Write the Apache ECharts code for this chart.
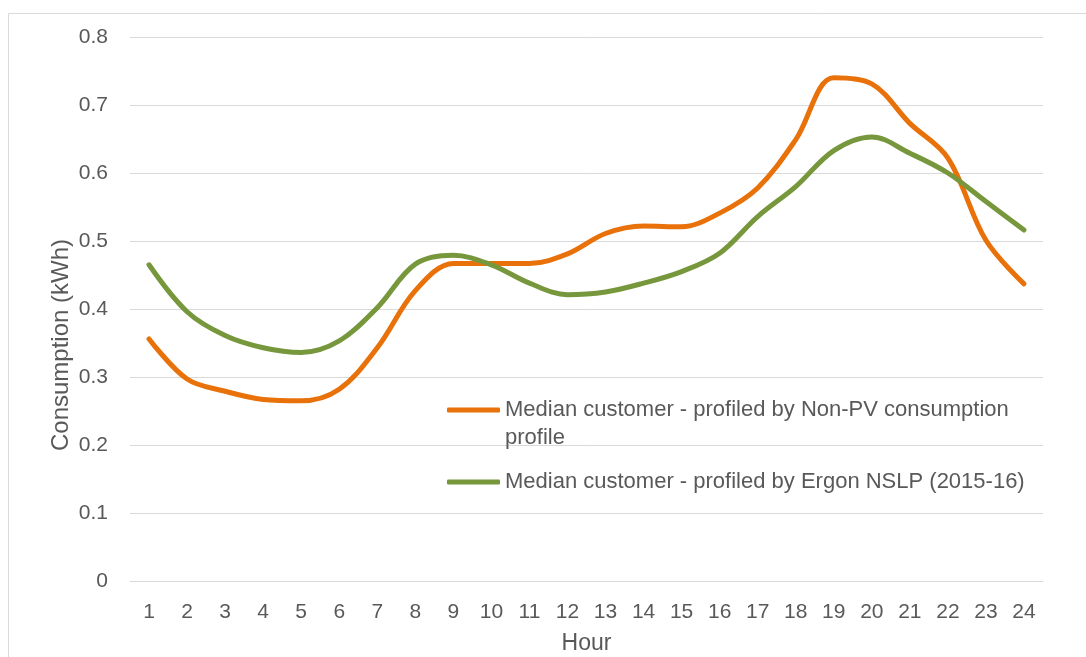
<!DOCTYPE html>
<html>
<head>
<meta charset="utf-8">
<script src="https://cdn.jsdelivr.net/npm/echarts@6/dist/echarts.min.js"></script>
<style>
html,body{margin:0;padding:0;background:#fff;}
#chart{width:1086px;height:657px;}
</style>
</head>
<body>
<div id="chart"></div>
<script>
const hours = ['1','2','3','4','5','6','7','8','9','10','11','12','13','14','15','16','17','18','19','20','21','22','23','24'];
const nonPV = [0.356,0.297,0.279,0.267,0.265,0.282,0.343,0.427,0.467,0.467,0.467,0.481,0.511,0.522,0.521,0.541,0.578,0.649,0.740,0.731,0.673,0.622,0.501,0.437];
const ergon = [0.465,0.396,0.361,0.343,0.336,0.353,0.402,0.466,0.479,0.465,0.438,0.421,0.425,0.438,0.455,0.482,0.536,0.580,0.633,0.653,0.629,0.600,0.558,0.516];
const yTicks = [0,0.1,0.2,0.3,0.4,0.5,0.6,0.7,0.8];
const seriesNames = ['Median customer - profiled by Non-PV consumption profile','Median customer - profiled by Ergon NSLP (2015-16)'];

const FONT = 'Liberation Sans';
const TXT = '#595959';
const chart = echarts.init(document.getElementById('chart'));
chart.setOption({
  animation:false,
  backgroundColor:'#fff',
  graphic:[{
    type:'rect', shape:{x:8.5,y:13.5,width:1200,height:800},
    style:{fill:'none',stroke:'#d9d9d9',lineWidth:1}, silent:true
  }],
  grid:{left:130,right:43,top:37,bottom:76,containLabel:false,outerBoundsMode:'none'},
  legend:[{
    data:[seriesNames[0]],
    left:447, top:399, padding:0,
    itemWidth:53, itemHeight:5,
    icon:'roundRect',
    formatter:function(){return '{a|Median customer - profiled by Non-PV consumption}\n{a|profile}';},
    textStyle:{color:TXT,fontFamily:FONT,fontSize:22,padding:[28,0,0,0],
      rich:{a:{fontFamily:FONT,fontSize:22,color:TXT,lineHeight:28}}},
    itemGap:0
  },{
    data:[seriesNames[1]],
    left:447, top:468, padding:0,
    itemWidth:53, itemHeight:5,
    icon:'roundRect',
    textStyle:{color:TXT,fontFamily:FONT,fontSize:22,lineHeight:28}
  }],
  xAxis:{
    type:'category', data:hours, boundaryGap:true,
    name:'Hour', nameLocation:'middle', nameGap:51, nameMoveOverlap:false,
    nameTextStyle:{color:TXT,fontFamily:FONT,fontSize:23},
    axisLine:{show:true,lineStyle:{color:'#d9d9d9',width:1}},
    axisTick:{show:false},
    axisLabel:{color:TXT,fontFamily:FONT,fontSize:21,margin:21,interval:0}
  },
  yAxis:{
    type:'value', min:0, max:0.8, interval:0.1,
    name:'Consumption (kWh)', nameLocation:'middle', nameGap:57, nameMoveOverlap:false,
    nameTextStyle:{color:TXT,fontFamily:FONT,fontSize:24,padding:[0,72,0,0]},
    axisLine:{show:false}, axisTick:{show:false},
    splitLine:{lineStyle:{color:'#d9d9d9',width:1}},
    axisLabel:{color:TXT,fontFamily:FONT,fontSize:21,margin:22,
      formatter:function(v){return String(Math.round(v*10)/10);}}
  },
  series:[{
    name:seriesNames[0], type:'line', data:nonPV, smooth:0.35,
    showSymbol:false, symbol:'none',
    lineStyle:{color:'#E8710A',width:5,cap:'round',join:'round'},
    itemStyle:{color:'#E8710A'}
  },{
    name:seriesNames[1], type:'line', data:ergon, smooth:0.35,
    showSymbol:false, symbol:'none',
    lineStyle:{color:'#77973D',width:5,cap:'round',join:'round'},
    itemStyle:{color:'#77973D'}
  }]
});
</script>
</body>
</html>
